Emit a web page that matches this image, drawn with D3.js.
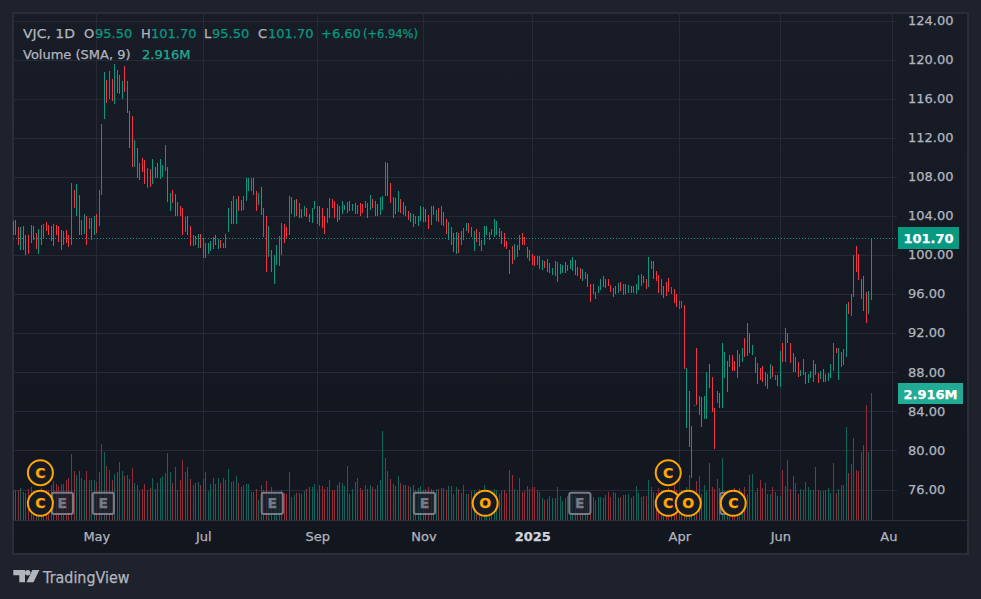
<!DOCTYPE html>
<html><head><meta charset="utf-8">
<script src="https://cdn.jsdelivr.net/npm/d3@7"></script>
<style>
html,body{margin:0;padding:0;background:#1e222d;overflow:hidden}
svg{display:block}
text{font-family:"DejaVu Sans",sans-serif}
</style></head><body>
<svg id="c" width="981" height="599"></svg>
<script>
const highs=[
103.5,103.6,102.9,102.9,103,102,102,103.1,103,102.25,
102.7,103.1,103.2,103.4,103.1,103,103.2,103.1,103,102.6,
102.5,102.6,102,107.4,106.65,107.3,106.15,103.6,104.2,104,
103.8,103.8,104,104.2,106.65,113.4,118.7,117.9,118.8,118,
119.55,118.9,118.4,117.8,119.3,117.8,114.7,114.2,111.8,111,
109.4,109.9,109.7,108.9,108.8,109.8,109,109.4,109.8,109.2,
111.3,109,106.35,106.65,106.25,105.4,105,104.8,103.9,104,
103,102,101.9,102.15,102.15,101.7,101.2,101.2,101.4,101.85,
102,101.6,101.5,101.2,102.15,104.8,105.5,106,105.7,106,
105.6,106,107.9,107.9,107.9,107.9,106.55,106.35,107,104.8,
104,103,100.5,100,101,101.95,103.3,103.2,102.9,106,
105.9,105.6,105.7,105.3,104.7,105,104.8,104.2,104.8,105.5,
105,105,104.8,104,104.8,105.8,105.7,105.5,105.2,105,
105.5,105.1,105.4,105.5,105.2,105.3,105.1,105.3,105.2,105.5,
105.3,106.15,105.7,105.5,105.2,105.9,106,109.5,109.4,107.4,
105.9,105.8,106.55,105.7,105.4,105,104.5,104.3,104.2,104,
104,105,104.9,104.7,104.1,105,105,104.6,104.8,105,
104.4,103.7,103.4,102.9,102.25,102.35,102.25,102.45,102.75,103.3,
103.3,102.9,102.45,102.65,102.35,101.5,103,103,102.35,102.65,
103.7,103.5,102.75,102.45,102.25,101.4,100.5,100.9,101.1,101,
102,102.25,101.85,100.8,100.5,100.1,99.9,99.9,99.9,99.5,
99.4,99.6,99.2,98.65,99.4,99.3,99.1,98.95,99.3,98.95,
99.5,99.8,99.5,98.8,98.65,98.55,98.25,98.05,97,97,
96.2,96.8,97.55,97.85,97.55,97.55,96.9,96.6,96.8,97.1,
97.2,97,97,96.9,96.8,96.8,97,98,98.05,97.85,
97.55,99.8,99.4,99.4,98.35,97.95,97.5,96.8,97.2,97.6,
96.7,96.5,96,95.3,95.3,94.9,88.4,86.1,82.5,84.65,
90.5,85.55,85.45,85.55,88,88.85,87.5,84.3,86.1,85.9,
91,90.05,89.15,89.75,89.75,89.15,90.3,89.85,90.5,91.5,
93.05,92,90.8,89.55,88.95,88.45,88.65,88,87.8,88.85,
88.65,87.7,87.7,90.2,91,92.5,92,91,90,89.55,
89,88.2,89.35,88,87.8,88.1,89.25,88.85,87.9,88.1,
88.3,87.8,87.9,88.85,91,90.5,90.5,90.05,90.4,95,
95.2,96,100,100.9,100.1,97.5,97.85,96.2,96.3,101.7];
const lows=[
102,102,101,100.5,100.5,100,100.1,101.2,101.5,100.6,
100.1,101,101.6,102.5,102,101.4,100.9,102,101.3,100.5,
101,101.2,100.8,101,104.8,104,102,102,102.1,101,
102.65,101.5,102,102.25,103,106.15,113.9,115.55,116,115.75,
115.45,116.6,116.5,116,116.7,114.5,110.95,109,109,107.9,
107.7,108.5,107.3,106.85,107,107.3,107.9,107.9,107.8,108,
108.6,105.4,104.5,105.3,104,104,104,102,102.35,102,
100.9,100.9,101,100.7,100.7,99.7,99.7,100.1,100.4,100.6,
101,100.6,100.7,100.7,100.7,102.35,103.2,103.2,103.2,104.5,
104.5,104.6,105.5,106.55,106.55,106.15,104.5,105.1,104.1,101.85,
98.25,99.8,98.25,97,99,98.9,100,101.2,101.7,102.05,
104.2,103.9,104,103.8,103.8,104,103.9,103.4,103.3,104.7,
103.2,103,102.8,102.15,103.3,103.8,104.8,103.8,103.4,103.6,
104.2,104.6,104.3,104.5,104.5,104.2,104.2,104,104.3,104.8,
103.8,104.6,104.8,104,104,104.1,104.6,106,106,105.3,
103.8,104.2,104.4,104.3,104.1,104,103.6,103.4,102.9,103.2,
103,103.5,103.4,103.4,102.65,103.1,104.1,103.5,103.4,103.1,
103,102.15,101.5,101,100.3,100.1,100.2,101,101.5,102.45,
102.25,101.85,100.4,101.3,100.9,100.4,101,102,101.5,102,
101.85,102,101.85,101.1,100.8,100.6,98.05,99.1,99.5,99.8,
100.5,101,101,99.7,99.4,99,98.9,99,98.55,98.45,
98.65,98.25,98.15,97.95,97.85,97.25,98.05,98.15,98.15,98.35,
98.55,98.35,97.95,97.85,97.55,97.35,97.55,96.7,95.2,96,
95.5,96.1,96.4,96.7,96.6,96.8,96.2,95.7,96,96.1,
96.3,95.9,96,96.1,96.1,96.1,96,96.4,96.8,97.1,
96.5,96.7,98.55,97.55,97.35,96.1,95.9,95.6,95.8,96.2,
96,95.1,94.7,94.5,94.6,88.3,82.3,80.35,77.2,84.55,
84.65,83.6,82.4,83.2,83.2,86.4,83.9,80.15,84.85,84.35,
84.35,87.4,86,88.55,88.1,88.1,87.4,88.55,89.05,89.55,
89.65,90,89.75,87.9,86.8,87.2,87,86.6,86.3,87.3,
87.5,87.2,86.6,86.5,89.05,89.05,91,88.95,88,88,
87.5,87.6,87.7,86.8,86.9,87.4,87,87.7,86.9,87.3,
87,87,87.1,87.4,88.1,90,87.2,88.5,88.7,89.55,
94,93.75,95.7,98.25,97.4,95.5,94.3,93,93.95,95.4];
const directions=
"---+---+--"+"+++--+----"+"+--+-+-++-"+"+-+-+++-+-"+"+-++----+-"+
"+--+-+--++"+"+-+-----+-"+"-+-+--++++"+"-+-++++++-"+"+++++--+-+"+
"-+-++++--+"+"-+---+--++"+"----++---+"+"+++-+-+--+"+"-+---+++--"+
"+-+--+-+-+"+"++---+-+-+"+"--++-+-+++"+"--+-++++++"+"++------++"+
"+------+-+"+"---+++++-+"+"++---++---"+"+++----+-+"+"-+-+-++++-"+
"-++---+---"+"+--++-+-++"+"-+-++---+-"+"++-+--+++-"+"+-+-+--+++"+
"-+-+-+---+"+"-++++"+"++--+--+++-++++-++-----++";
const volumes=[
.7,.7,.7,.74,.65,.62,.72,.77,.66,.62,
.7,.74,.68,.7,.7,.8,.9,.83,.78,.83,
.83,.92,.97,1.52,1.13,1.04,1.13,.97,.92,1.13,
.92,.92,.92,.87,1.1,1.75,1.57,1.25,1.15,.92,
1.06,1.1,1.34,1.13,1.01,1.04,.95,1.2,.85,.8,
.67,.72,.83,.7,.74,.97,.72,.85,.97,1.01,
1.08,1.55,1.1,.85,1.22,.7,.92,1.38,1.1,1.22,
.95,.81,.85,.88,.81,.95,1.1,.67,.83,.97,
.83,.97,.85,.97,.92,1.18,.88,.9,1.01,.85,
.76,.81,.83,.83,.65,.65,.72,.46,.81,.7,
.9,.65,.76,.62,.62,.62,.7,.62,.6,1.1,
.53,.58,.62,.62,.6,.67,.72,.76,.76,.83,
.65,.81,.78,.72,.76,.92,.7,.7,.8,.88,
.86,.78,1.25,.6,.72,.88,.97,.74,.7,.81,
.72,.81,.76,.72,.81,.92,2.05,1.43,1.13,.95,
.83,.78,1.01,.85,.81,.81,.78,.76,.81,.7,
.74,.78,.7,.72,.76,.72,.7,.72,.72,.74,
.74,.7,.78,.78,.6,.76,.72,.62,.81,.6,
.6,.67,.7,.65,.72,.67,.81,.65,.65,.6,
.72,.7,.6,.67,.7,.62,1.15,1.04,.72,.7,
.97,.65,.67,.78,.72,.76,.76,.7,.65,.51,
.46,.48,.55,.51,.51,.76,.55,.44,.51,.55,
.65,.65,.55,.55,.58,.58,.58,.48,.55,.53,
.46,.53,.53,.51,.58,.65,.53,.65,.62,.51,
.53,.58,.58,.6,.51,.55,.78,.62,.53,.55,
.55,.92,.76,.65,.62,.74,.7,.7,.65,.73,
.7,.8,.7,.65,.7,.69,.77,1.04,.7,.55,
.9,1.01,.6,.81,.67,1.31,.76,.72,.95,.74,
1.43,.62,.6,.6,.62,.73,.65,.74,.6,.76,
.6,1.04,1.06,.65,.74,.92,.74,.85,.6,.6,
.76,.65,.55,.55,1.15,.78,1.38,.72,1.01,.85,
.6,.72,.7,.88,.76,.7,.7,1.22,.7,.67,
.67,.7,.74,.62,1.31,.62,.72,.81,.81,
2.14,1.08,1.29,1.89,1.15,1.13,1.57,1.73,2.65,1.57,2.916];
const priceTicks=[76,80,84,88,92,96,100,104,108,112,116,120,124];
const monthLabels=["May","Jul","Sep","Nov","2025","Apr","Jun","Aug"];
const monthIndex=[32.8,75.05,120.1,162,205,263.1,303,347.3];
const eventType=["E","E","E","E","E","E","C","C","O","C","C","O","C"];
const eventIndex=[19.4,35.55,102.3,162.4,223.8,283.5,10.7,10.7,186.4,258.7,258.7,266.6,284.4];
const eventRow=[0,0,0,0,0,0,1,0,0,1,0,0,0];
const lastPrice=101.70, lastVolume=2.916;
const legendLine1=["VJC, 1D","O","95.50","H","101.70","L","95.50","C","101.70","+6.60","(+6.94%)"];
const legendLine2=["Volume (SMA, 9)","2.916M"];

const green="#089981",red="#f23645",grid="#262a35",label="#b2b5be";
const svg=d3.select("#c");
const defs=svg.append("defs");
const grad=defs.append("linearGradient").attr("id","bg").attr("x1",0).attr("x2",0).attr("y1",0).attr("y2",1);
grad.append("stop").attr("offset",0).attr("stop-color","#181c27");
grad.append("stop").attr("offset",1).attr("stop-color","#12161f");
defs.append("clipPath").attr("id","plot").append("rect").attr("x",13).attr("y",13).attr("width",884).attr("height",540);
defs.append("clipPath").attr("id","xclip").append("rect").attr("x",13).attr("y",0).attr("width",885).attr("height",40);

svg.append("rect").attr("width",981).attr("height",599).attr("fill","#1e222d");
svg.append("rect").attr("x",13).attr("y",13).attr("width",955).attr("height",541)
  .attr("fill","url(#bg)").attr("stroke","#2a2e39").attr("stroke-width",2);

const x=d3.scaleLinear().domain([0,highs.length-1]).range([13.3,871.5]);
const y=d3.scaleLinear().domain([76,124]).range([489.5,20.5]);
const v=d3.scaleLinear().domain([0,lastVolume]).range([520,393.3]);
const px=i=>Math.floor(x(i));

const g=svg.append("g").attr("clip-path","url(#plot)");
g.append("g").selectAll("line").data(priceTicks).join("line")
  .attr("x1",13).attr("x2",897).attr("y1",d=>Math.round(y(d))+.5).attr("y2",d=>Math.round(y(d))+.5)
  .attr("stroke",grid);
g.append("g").selectAll("line").data(monthIndex).join("line")
  .attr("x1",d=>px(d)+.5).attr("x2",d=>px(d)+.5).attr("y1",13).attr("y2",520).attr("stroke",grid);

g.append("g").attr("shape-rendering","crispEdges").selectAll("rect").data(volumes).join("rect")
  .attr("x",(d,i)=>px(i)).attr("width",1).attr("y",d=>v(d)).attr("height",d=>520-v(d))
  .attr("fill",(d,i)=>directions[i]==="+"?"#0e665a":"#922d3a");

g.append("line").attr("x1",13).attr("x2",897).attr("y1",Math.round(y(lastPrice))+.5).attr("y2",Math.round(y(lastPrice))+.5)
  .attr("stroke",green).attr("stroke-width",1).attr("stroke-dasharray","1 2");

g.append("g").attr("shape-rendering","crispEdges").selectAll("rect").data(highs).join("rect")
  .attr("x",(d,i)=>px(i)).attr("width",1).attr("y",d=>y(d)).attr("height",(d,i)=>y(lows[i])-y(d))
  .attr("fill",(d,i)=>directions[i]==="+"?green:red);

svg.append("line").attr("x1",13).attr("x2",968).attr("y1",520.5).attr("y2",520.5).attr("stroke","#2a2e39");

// right axis
const yAxis=svg.append("g").attr("transform","translate(908,-.4)")
  .call(d3.axisRight(y).tickValues(priceTicks).tickFormat(d3.format(".2f")).tickSize(0).tickPadding(0));
yAxis.select(".domain").remove();
yAxis.selectAll("text").attr("fill",label).attr("font-size",13).attr("font-family","DejaVu Sans");

// bottom axis
const xAxis=svg.append("g").attr("transform","translate(0,520)").attr("clip-path","url(#xclip)")
  .call(d3.axisBottom(x).tickValues(monthIndex).tickFormat((d,i)=>monthLabels[i]).tickSize(0).tickPadding(12));
xAxis.select(".domain").remove();
xAxis.selectAll("text").attr("fill",(d,i)=>monthLabels[i]==="2025"?"#d1d4dc":label)
  .attr("font-size",13).attr("font-family","DejaVu Sans")
  .attr("font-weight",(d,i)=>monthLabels[i]==="2025"?"bold":"normal");

// events
const evs=eventType.map((t,i)=>({t,x:x(eventIndex[i]),y:eventRow[i]?472.7:503.3}));
const squares=evs.filter(e=>e.t==="E"), circles=evs.filter(e=>e.t!=="E");
const sq=svg.append("g").selectAll("g").data(squares).join("g");
sq.append("rect").attr("x",d=>d.x-10.6).attr("y",d=>d.y-10.6).attr("width",21.2).attr("height",21.2).attr("rx",2)
  .attr("fill","#1e222d").attr("fill-opacity",.8).attr("stroke","#787b86").attr("stroke-width",2);
sq.append("text").attr("x",d=>d.x).attr("y",d=>d.y+5).attr("text-anchor","middle").attr("font-size",14)
  .attr("font-weight","bold").attr("fill","#787b86").text(d=>d.t);
const ci=svg.append("g").selectAll("g").data(circles).join("g");
ci.append("circle").attr("cx",d=>d.x).attr("cy",d=>d.y).attr("r",12.5)
  .attr("fill","#161a25").attr("stroke","#ffa600").attr("stroke-width",2);
ci.append("text").attr("x",d=>d.x).attr("y",d=>d.y+5).attr("text-anchor","middle").attr("font-size",14)
  .attr("font-weight","bold").attr("fill","#ffa600").text(d=>d.t);

// last value tags
svg.append("rect").attr("x",898).attr("y",227).attr("width",61).attr("height",22).attr("fill",green);
svg.append("text").attr("x",928.5).attr("y",243).attr("text-anchor","middle").attr("fill","#fff")
  .attr("font-size",13).attr("font-weight","bold").text(lastPrice.toFixed(2));
svg.append("rect").attr("x",898).attr("y",383).attr("width",65).attr("height",21).attr("fill","#22ab94");
svg.append("text").attr("x",930.5).attr("y",398.5).attr("text-anchor","middle").attr("fill","#fff")
  .attr("font-size",13).attr("font-weight","bold").text(lastVolume.toFixed(3)+"M");

// legend
const l1x=[23,84,95,141,151,204,212,258,268,321,363];
const l1c=[label,label,green,label,green,label,green,label,green,green,green];
const l1w=[52,null,null,null,null,null,null,null,null,null,55];
svg.append("g").selectAll("text").data(legendLine1).join("text")
  .attr("x",(d,i)=>l1x[i]).attr("y",38).attr("font-size",13).attr("fill",(d,i)=>l1c[i])
  .each(function(d,i){ if(l1w[i]) d3.select(this).attr("textLength",l1w[i]).attr("lengthAdjust","spacingAndGlyphs"); })
  .text(d=>d);
svg.append("g").selectAll("text").data(legendLine2).join("text")
  .attr("x",(d,i)=>[23,142][i]).attr("y",59).attr("font-size",13).attr("fill",(d,i)=>[label,"#22ab94"][i]).text(d=>d);

// logo
svg.append("path").attr("fill","#b2b5be")
  .attr("d","M13.3 570h11.7v12.3h-5.7v-7h-6zM39.4 570l-5.9 12.3h-7l5.9-12.3z");
svg.append("circle").attr("cx",27.7).attr("cy",572.7).attr("r",2.7).attr("fill","#b2b5be");
svg.append("text").attr("x",43).attr("y",583).attr("font-size",15).attr("font-family","Noto Sans")
  .attr("textLength",86.5).attr("lengthAdjust","spacingAndGlyphs")
  .attr("fill","#b2b5be").text("TradingView");

// slightly heavier glyphs, as in the reference's canvas text
svg.selectAll("text").each(function(){const s=d3.select(this);s.attr("stroke",s.attr("fill")).attr("stroke-width",.25);});
</script>
</body></html>
